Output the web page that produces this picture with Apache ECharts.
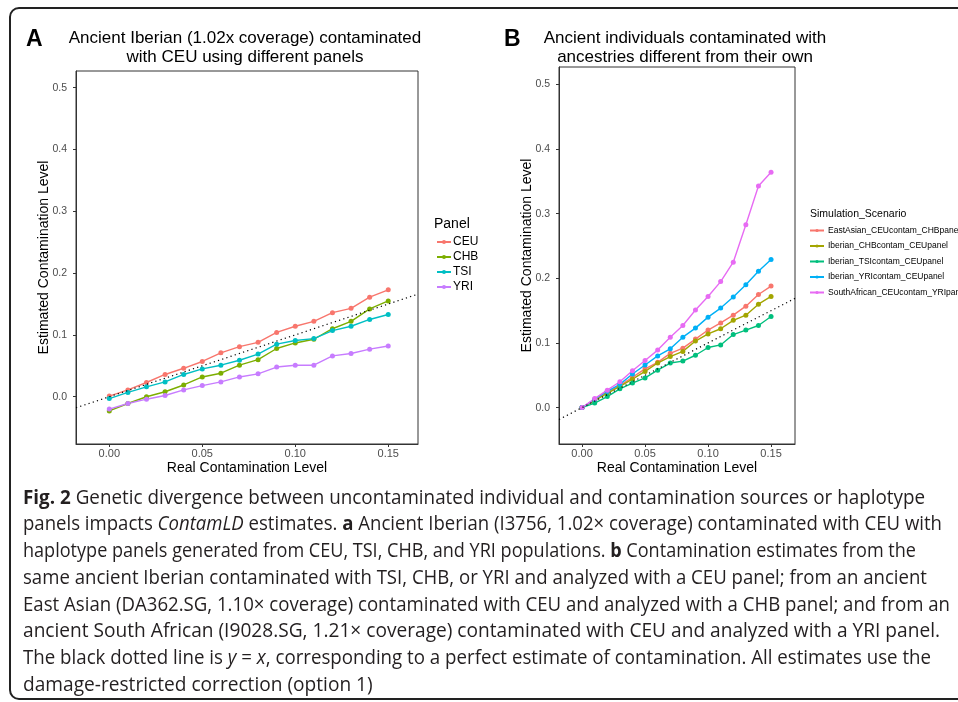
<!DOCTYPE html>
<html>
<head>
<meta charset="utf-8">
<script src="https://cdn.jsdelivr.net/npm/echarts@6/dist/echarts.min.js"></script>
<style>html,body{margin:0;padding:0;background:#fff}#c{width:958px;height:702px}</style>
</head>
<body>
<div id="c"></div>
<script>
// ---- data ----
var realLevels = [0, 0.01, 0.02, 0.03, 0.04, 0.05, 0.06, 0.07, 0.08, 0.09, 0.10, 0.11, 0.12, 0.13, 0.14, 0.15];

// Panel A (Ancient Iberian, CEU contamination, different panels)
var panelNames = ['CEU', 'CHB', 'TSI', 'YRI'];
var panelCEU = [0.001, 0.011, 0.023, 0.036, 0.046, 0.057, 0.071, 0.081, 0.088, 0.104, 0.114, 0.122, 0.136, 0.143, 0.161, 0.173];
var panelCHB = [-0.023, -0.011, 0.000, 0.008, 0.019, 0.032, 0.038, 0.051, 0.060, 0.078, 0.087, 0.093, 0.110, 0.122, 0.142, 0.155];
var panelTSI = [-0.003, 0.007, 0.016, 0.024, 0.036, 0.045, 0.051, 0.059, 0.069, 0.085, 0.091, 0.094, 0.107, 0.114, 0.125, 0.133];
var panelYRI = [-0.020, -0.011, -0.004, 0.002, 0.011, 0.018, 0.024, 0.032, 0.037, 0.048, 0.051, 0.051, 0.066, 0.070, 0.077, 0.082];

// Panel B (scenarios)
var scenarioNames = ['EastAsian_CEUcontam_CHBpanel', 'Iberian_CHBcontam_CEUpanel', 'Iberian_TSIcontam_CEUpanel', 'Iberian_YRIcontam_CEUpanel', 'SouthAfrican_CEUcontam_YRIpanel'];
var eastAsianCEU = [0, 0.012, 0.024, 0.034, 0.047, 0.060, 0.070, 0.084, 0.092, 0.106, 0.120, 0.131, 0.143, 0.157, 0.175, 0.188];
var iberianCHB = [0, 0.011, 0.022, 0.033, 0.044, 0.056, 0.069, 0.079, 0.087, 0.103, 0.114, 0.122, 0.135, 0.143, 0.160, 0.172];
var iberianTSI = [0, 0.007, 0.017, 0.029, 0.038, 0.046, 0.058, 0.069, 0.072, 0.081, 0.093, 0.097, 0.113, 0.120, 0.127, 0.141];
var iberianYRI = [0, 0.013, 0.025, 0.036, 0.052, 0.066, 0.080, 0.091, 0.109, 0.123, 0.140, 0.154, 0.171, 0.190, 0.211, 0.229];
var southAfricanCEU = [0, 0.014, 0.027, 0.040, 0.057, 0.073, 0.089, 0.109, 0.127, 0.151, 0.172, 0.195, 0.225, 0.283, 0.343, 0.364];

// ticks
var xTicks = [0, 0.05, 0.10, 0.15];
var yTicks = [0, 0.1, 0.2, 0.3, 0.4, 0.5];

// axis ranges
var xRangeA = [-0.0179, 0.166];
var yRangeA = [-0.0765, 0.527];
var xRangeB = [-0.0183, 0.169];
var yRangeB = [-0.0563, 0.527];

var colorsA = ['#F8766D', '#7CAE00', '#00BFC4', '#C77CFF'];
var colorsB = ['#F8766D', '#A3A500', '#00BF7D', '#00B0F6', '#E76BF3'];

// caption text
var captionLines = [
  '{b|Fig. 2}{n| Genetic divergence between uncontaminated individual and contamination sources or haplotype}',
  '{n|panels impacts }{i|ContamLD}{n| estimates. }{b|a}{n| Ancient Iberian (I3756, 1.02× coverage) contaminated with CEU with}',
  '{n|haplotype panels generated from CEU, TSI, CHB, and YRI populations. }{b|b}{n| Contamination estimates from the}',
  '{n|same ancient Iberian contaminated with TSI, CHB, or YRI and analyzed with a CEU panel; from an ancient}',
  '{n|East Asian (DA362.SG, 1.10× coverage) contaminated with CEU and analyzed with a CHB panel; and from an}',
  '{n|ancient South African (I9028.SG, 1.21× coverage) contaminated with CEU and analyzed with a YRI panel.}',
  '{n|The black dotted line is }{i|y}{n| = }{i|x}{n|, corresponding to a perfect estimate of contamination. All estimates use the}',
  '{n|damage-restricted correction (option 1)}'
];
// right edge of each caption line in the reference (null = natural width)
var captionRightEdges = [925, 942, 916, 927, 950, 940, 931, null];

// ---- chart ----
var chart = echarts.init(document.getElementById('c'), null, {renderer: 'canvas'});
var FONT = 'Liberation Sans, Arial, Helvetica, sans-serif';

function pairs(ys) { return realLevels.map(function (x, i) { return [x, ys[i]]; }); }

function xAxisCfg(gi, range) {
  return {
    gridIndex: gi, type: 'value', min: range[0], max: range[1],
    name: 'Real Contamination Level', nameLocation: 'middle', nameGap: 17, nameMoveOverlap: false,
    nameTextStyle: {fontFamily: FONT, fontSize: 14, color: '#000'},
    axisLine: {show: true, onZero: false, lineStyle: {color: '#333', width: 1}},
    axisTick: {show: true, length: 3, customValues: xTicks, lineStyle: {color: '#333'}},
    axisLabel: {customValues: xTicks, formatter: function (v) { return v.toFixed(2); }, fontFamily: FONT, fontSize: 11, color: '#4D4D4D', margin: 4},
    splitLine: {show: false}
  };
}
function yAxisCfg(gi, range, gap) {
  return {
    gridIndex: gi, type: 'value', min: range[0], max: range[1],
    name: 'Estimated Contamination Level', nameLocation: 'middle', nameGap: gap, nameRotate: 90, nameMoveOverlap: false,
    nameTextStyle: {fontFamily: FONT, fontSize: 14, color: '#000'},
    axisLine: {show: true, onZero: false, lineStyle: {color: '#333', width: 1}},
    axisTick: {show: true, length: 3, customValues: yTicks, lineStyle: {color: '#333'}},
    axisLabel: {customValues: yTicks, formatter: function (v) { return v.toFixed(1); }, fontFamily: FONT, fontSize: 10.5, color: '#4D4D4D', margin: 9},
    splitLine: {show: false}
  };
}

function lineSeries(name, ys, color, gi) {
  return {
    name: name, type: 'line', xAxisIndex: gi, yAxisIndex: gi, data: pairs(ys),
    symbol: 'circle', symbolSize: 5, showSymbol: true,
    lineStyle: {color: color, width: 1.4}, itemStyle: {color: color},
    emphasis: {disabled: true}, z: 3
  };
}
function identitySeries(range, gi) {
  return {
    name: 'identity' + gi, type: 'line', xAxisIndex: gi, yAxisIndex: gi,
    data: [[range[0], range[0]], [range[1], range[1]]],
    symbol: 'none', lineStyle: {color: '#000', width: 1.2, type: [1.2, 3.2]},
    emphasis: {disabled: true}, z: 4, silent: true
  };
}

var seriesA = [panelCEU, panelCHB, panelTSI, panelYRI];
var seriesB = [eastAsianCEU, iberianCHB, iberianTSI, iberianYRI, southAfricanCEU];
var series = [];
panelNames.forEach(function (n, i) { series.push(lineSeries(n, seriesA[i], colorsA[i], 0)); });
scenarioNames.forEach(function (n, i) { series.push(lineSeries(n, seriesB[i], colorsB[i], 1)); });
series.push(identitySeries(xRangeA, 0));
series.push(identitySeries(xRangeB, 1));

var capFont = 'Open Sans, Noto Sans, sans-serif';
var CAP_SIZE = 20;
var capRich = {
  b: {fontFamily: capFont, fontSize: CAP_SIZE, fontWeight: 'bold', fill: '#231F20'},
  i: {fontFamily: capFont, fontSize: CAP_SIZE, fontStyle: 'italic', fill: '#231F20'},
  n: {fontFamily: capFont, fontSize: CAP_SIZE, fill: '#231F20'}
};
var measureCtx = document.createElement('canvas').getContext('2d');
function lineWidth(line) {
  var re = /\{(\w)\|([^}]*)\}/g, m, w = 0;
  while ((m = re.exec(line))) {
    var pre = m[1] === 'b' ? 'bold ' : (m[1] === 'i' ? 'italic ' : '');
    measureCtx.font = pre + CAP_SIZE + 'px ' + capFont;
    w += measureCtx.measureText(m[2]).width;
  }
  return w;
}
var captionX = 23, captionY0 = 498, captionDy = 26.7, defaultScale = 0.956;

var graphics = [
  {type: 'rect', shape: {x: 10, y: 8, width: 1000, height: 691, r: 9}, style: {fill: 'none', stroke: '#222', lineWidth: 2}, silent: true},
  {type: 'text', x: 26, y: 40, style: {text: 'A', font: 'bold 23px ' + FONT, fill: '#000', textVerticalAlign: 'middle'}},
  {type: 'text', x: 504, y: 40, style: {text: 'B', font: 'bold 23px ' + FONT, fill: '#000', textVerticalAlign: 'middle'}},
  {type: 'text', x: 245, y: 29, style: {text: 'Ancient Iberian (1.02x coverage) contaminated\nwith CEU using different panels', font: '17px ' + FONT, fill: '#000', textAlign: 'center', lineHeight: 19}},
  {type: 'text', x: 685, y: 29, style: {text: 'Ancient individuals contaminated with\nancestries different from their own', font: '17px ' + FONT, fill: '#000', textAlign: 'center', lineHeight: 19}},
  {type: 'text', x: 434, y: 217, style: {text: 'Panel', font: '14px ' + FONT, fill: '#000'}},
  {type: 'text', x: 810, y: 209, style: {text: 'Simulation_Scenario', font: '10.5px ' + FONT, fill: '#000'}}
];
captionLines.forEach(function (t, i) {
  var edge = captionRightEdges[i];
  var sx = edge ? (edge - captionX) / lineWidth(t) : defaultScale;
  graphics.push({type: 'text', x: captionX, y: captionY0 + i * captionDy, scaleX: sx,
    style: {text: t, rich: capRich, textVerticalAlign: 'middle', fill: '#231F20', font: CAP_SIZE + 'px ' + capFont}});
});

var option = {
  backgroundColor: '#fff',
  animation: false,
  grid: [
    {left: 76, top: 71, width: 342, height: 373, show: true, borderColor: '#333', borderWidth: 1, backgroundColor: '#fff'},
    {left: 559, top: 67, width: 236, height: 377, show: true, borderColor: '#333', borderWidth: 1, backgroundColor: '#fff'}
  ],
  xAxis: [xAxisCfg(0, xRangeA), xAxisCfg(1, xRangeB)],
  yAxis: [yAxisCfg(0, yRangeA, 25), yAxisCfg(1, yRangeB, 25)],
  legend: [
    {data: panelNames, orient: 'vertical', left: 431, top: 231, itemWidth: 14, itemHeight: 5, itemGap: 3,
      textStyle: {fontFamily: FONT, fontSize: 12, color: '#000', padding: [0, 0, 0, -3]}, selectedMode: false},
    {data: scenarioNames, orient: 'vertical', left: 804, top: 221, itemWidth: 14, itemHeight: 4, itemGap: 6.5,
      textStyle: {fontFamily: FONT, fontSize: 8.5, color: '#000', padding: [0, 0, 0, -1]}, selectedMode: false}
  ],
  series: series,
  graphic: graphics
};
chart.setOption(option);
</script>
</body>
</html>
